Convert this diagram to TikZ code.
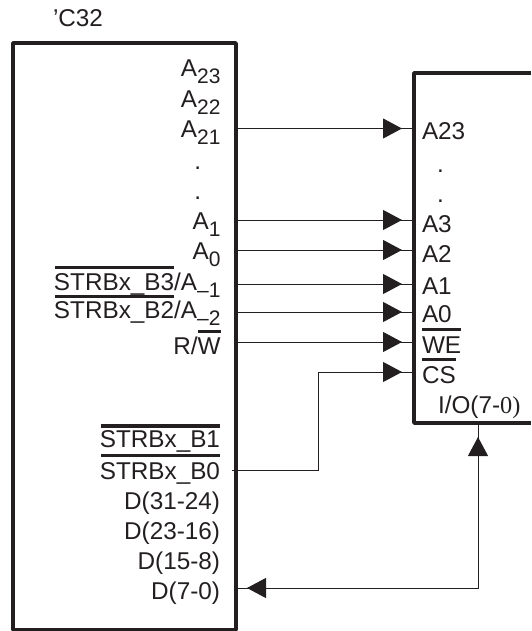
\documentclass[tikz,border=0pt]{standalone}
\usepackage{fontspec}
\setmainfont{Liberation Sans}
\newfontfamily\ioserif{Liberation Serif}
\usetikzlibrary{arrows.meta,decorations.markings}
\definecolor{ink}{HTML}{231F20}
\newcommand{\sbs}[1]{\raisebox{-7pt}{\fontsize{21}{21}\selectfont #1}}
\tikzset{
  chip/.style={draw=ink,line width=3.4pt,line join=round},
  wire/.style={draw=ink,line width=1pt},
  lab/.style={inner sep=0pt,outer sep=0pt,text=ink,font=\fontsize{24.3}{25}\selectfont},
  rlab/.style={lab,anchor=base east},
  llab/.style={lab,anchor=base west},
  obar/.style={draw=ink,line width=3.8pt},
  headin/.style={postaction={decorate,decoration={markings,mark=at position -12pt with {\arrow{Triangle[length=19pt,width=20pt]}}}}},
  biend/.style={postaction={decorate,decoration={markings,
     mark=at position 11pt with {\arrowreversed{Triangle[length=19pt,width=20pt]}},
     mark=at position -14pt with {\arrow{Triangle[length=19pt,width=20pt]}}}}},
}
\begin{document}
\begin{tikzpicture}[x=1pt,y=-1pt,ink]
\useasboundingbox (0,0) rectangle (531,631);
% chips
\node[chip,rectangle,inner sep=0pt,outer sep=0pt,minimum width=223pt,minimum height=587pt,anchor=north west] (cpu) at (13,43) {};
\draw[chip] (531,73) coordinate (mt) -- (414,73) -- (414,423) -- (531,423) coordinate (mb);
\node[llab] (title) at (53,27) {’C32};
% left labels
\node[rlab] (a23) at (220.5,77) {A\sbs{23}};
\node[rlab] (a22) at (220.5,108) {A\sbs{22}};
\node[rlab] (a21) at (220.5,138) {A\sbs{21}};
\node[rlab] (d1) at (201,169) {.};
\node[rlab] (d2) at (201,199) {.};
\node[rlab] (a1) at (220.5,229) {A\sbs{1}};
\node[rlab] (a0) at (220.5,259) {A\sbs{0}};
\node[rlab] (sb3) at (220.5,290.5) {STRBx\_B3/A\sbs{–1}};
\node[rlab] (sb2) at (220.5,318.5) {STRBx\_B2/A\sbs{–2}};
\node[rlab] (rw) at (220.5,354) {R/W};
\node[rlab] (sb1) at (220,447.5) {STRBx\_B1};
\node[rlab] (sb0) at (220,479) {STRBx\_B0};
\node[rlab] (d31) at (220,509) {D(31-24)};
\node[rlab] (d23) at (220,539) {D(23-16)};
\node[rlab] (d15) at (220,569) {D(15-8)};
\node[rlab] (d7) at (220,599) {D(7-0)};
% right labels
\node[llab] (ma23) at (422,140) {A23};
\node[llab] (md1) at (437,172) {.};
\node[llab] (md2) at (437,202) {.};
\node[llab] (ma3) at (422,232) {A3};
\node[llab] (ma2) at (422,262) {A2};
\node[llab] (ma1) at (422,294) {A1};
\node[llab] (ma0) at (422,322) {A0};
\node[llab] (mwe) at (422,353) {WE};
\node[llab] (mcs) at (422,383) {CS};
\node[llab] (mio) at (438,413) {I/O(7-{\ioserif 0)}};
% overbars
\draw[obar] (55,267.5) -- (174,267.5);
\draw[obar] (55,296.5) -- (174,296.5);
\draw[obar] (198,331.5) -- (221,331.5);
\draw[obar] (101,426) -- (220,426);
\draw[obar] (101,455.5) -- (220,455.5);
\draw[obar] (422,329.5) -- (461,329.5);
\draw[obar] (422,359.5) -- (456,359.5);
% pins
\foreach \n/\y in {a/128.5,b/220,c/250,d/284,e/312,f/342}{
  \coordinate (l\n) at (236,\y);
  \coordinate (r\n) at (414,\y);
  \path[wire,headin] (l\n) -- (r\n);
}
\coordinate (ls) at (232,470.5);
\coordinate (rs) at (414,372);
\coordinate (ld) at (236,588);
\coordinate (rd) at (478,423);
\path[wire,headin] (ls) -| (318,372) -- (rs);
\path[wire,biend] (ld) -| (rd);
\end{tikzpicture}
\end{document}
